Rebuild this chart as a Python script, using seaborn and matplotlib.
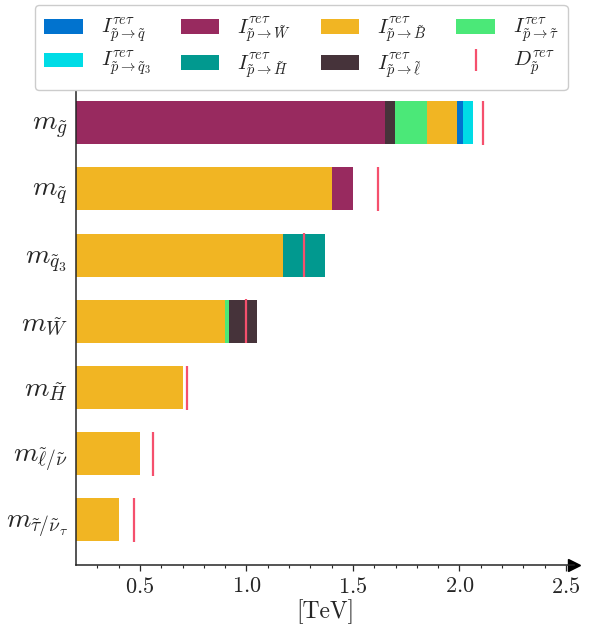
import numpy as np
import pandas as pd
import matplotlib
matplotlib.use("Agg")
import matplotlib.pyplot as plt
from matplotlib.patches import Patch
from matplotlib.lines import Line2D
from matplotlib.ticker import FixedFormatter
import seaborn as sns

# Mass parameters (rows of the chart, top to bottom)
categories = [
    r"$m_{\tilde{g}}$",
    r"$m_{\tilde{q}}$",
    r"$m_{\tilde{q}_3}$",
    r"$m_{\tilde{W}}$",
    r"$m_{\tilde{H}}$",
    r"$m_{\tilde{\ell}/\tilde{\nu}}$",
    r"$m_{\tilde{\tau}/\tilde{\nu}_\tau}$",
]

# Contributions to each mass bound [TeV], one array per decay channel
I_q = [0.025, 0.0, 0.0, 0.0, 0.0, 0.0, 0.0]
I_q3 = [0.05, 0.0, 0.0, 0.0, 0.0, 0.0, 0.0]
I_W = [1.65, 0.10, 0.0, 0.0, 0.0, 0.0, 0.0]
I_H = [0.0, 0.0, 0.20, 0.0, 0.0, 0.0, 0.0]
I_B = [0.14, 1.40, 1.17, 0.90, 0.70, 0.50, 0.40]
I_l = [0.05, 0.0, 0.0, 0.13, 0.0, 0.0, 0.0]
I_tau = [0.15, 0.0, 0.0, 0.02, 0.0, 0.0, 0.0]

# Direct bounds [TeV]
D_p = [2.11, 1.62, 1.27, 1.00, 0.72, 0.56, 0.47]

# x-axis ticks
major_ticks = [0.5, 1.0, 1.5, 2.0, 2.5]
tick_labels = ["0.5", "1.0", "1.5", "2.0", "2.5"]

# Order in which the channels are stacked inside each row
stack_order = [
    ["W", "l", "tau", "B", "q", "q3"],
    ["B", "W"],
    ["B", "H"],
    ["B", "tau", "l"],
    ["B"],
    ["B"],
    ["B"],
]

channels = {"q": I_q, "q3": I_q3, "W": I_W, "H": I_H, "B": I_B, "l": I_l, "tau": I_tau}
colors = {
    "q": "#0173cf",
    "q3": "#00dce6",
    "W": "#982a5f",
    "H": "#01998f",
    "B": "#f1b523",
    "l": "#46333a",
    "tau": "#4be878",
}
labels = {
    "q": r"$I^{\tau e\tau}_{\tilde{p}\to\tilde{q}}$",
    "q3": r"$I^{\tau e\tau}_{\tilde{p}\to\tilde{q}_3}$",
    "W": r"$I^{\tau e\tau}_{\tilde{p}\to\tilde{W}}$",
    "H": r"$I^{\tau e\tau}_{\tilde{p}\to\tilde{H}}$",
    "B": r"$I^{\tau e\tau}_{\tilde{p}\to\tilde{B}}$",
    "l": r"$I^{\tau e\tau}_{\tilde{p}\to\tilde{\ell}}$",
    "tau": r"$I^{\tau e\tau}_{\tilde{p}\to\tilde{\tau}}$",
}
d_color = "#f5506d"

sns.set_style("ticks")
plt.rcParams["font.family"] = "serif"
plt.rcParams["font.serif"] = ["cmr10", "DejaVu Serif"]
plt.rcParams["mathtext.fontset"] = "cm"
plt.rcParams["axes.formatter.use_mathtext"] = True

# Cumulative segment ends; depth 0 is the outermost segment of a row
rows = []
for i, cat in enumerate(categories):
    ends = np.cumsum([channels[c][i] for c in stack_order[i]])
    n = len(ends)
    for k, c in enumerate(stack_order[i]):
        rows.append({"cat": cat, "chan": c, "end": ends[k], "depth": n - 1 - k})
seg = pd.DataFrame(rows)

fig = plt.figure(figsize=(6, 6.3), dpi=100)
ax = fig.add_axes([76 / 600, 65 / 630, 498 / 600, 480 / 630])

# Overlay bars from the outermost segment inwards so they read as stacks
for depth in sorted(seg["depth"].unique()):
    layer = seg[seg["depth"] == depth]
    sns.barplot(
        data=layer, x="end", y="cat", hue="chan", order=categories,
        hue_order=list(colors), palette=colors, dodge=False, width=0.65,
        linewidth=0, saturation=1, legend=False, ax=ax,
    )

sns.scatterplot(
    x=D_p, y=categories, marker="|", s=960, linewidth=1.6,
    color=d_color, legend=False, ax=ax, zorder=5,
)

ax.set_xlim(0.2, 0.2 + 498 / 213)
ax.set_ylim(6.68, -0.57)
ax.set_xticks(major_ticks)
ax.xaxis.set_major_formatter(FixedFormatter([f"${t}$" for t in tick_labels]))
ax.set_xticks(np.arange(0.3, 2.55, 0.1), minor=True)
ax.tick_params(axis="x", which="major", length=4.5, width=0.9, labelsize=16, pad=4)
ax.tick_params(axis="x", which="minor", length=2.5, width=0.8)
ax.tick_params(axis="y", length=0, labelsize=20, pad=6)
ax.set_xlabel("[TeV]", fontsize=17, labelpad=2)
ax.set_ylabel("")
for side in ["top", "right"]:
    ax.spines[side].set_visible(False)
ax.spines["left"].set_linewidth(1.1)
ax.spines["bottom"].set_linewidth(1.1)
ax.plot(1, 0, ">k", markersize=9, transform=ax.transAxes, clip_on=False)

legend_keys = ["q", "q3", "W", "H", "B", "l", "tau"]
handles = [Patch(facecolor=colors[k], edgecolor="none", label=labels[k]) for k in legend_keys]
handles.append(Line2D([], [], marker="|", linestyle="None", color=d_color,
                      markersize=16, markeredgewidth=1.6,
                      label=r"$D^{\tau e\tau}_{\tilde{p}}$"))
fig.legend(
    handles=handles, ncol=4, loc="upper left",
    bbox_to_anchor=(35 / 600, 1 - 5 / 630), borderaxespad=0, fontsize=15,
    handlelength=1.85, handleheight=0.72, handletextpad=0.85,
    columnspacing=1.45, labelspacing=0.25, borderpad=0.45,
    frameon=True, framealpha=1.0,
)

fig.savefig("out.png", dpi=100)
